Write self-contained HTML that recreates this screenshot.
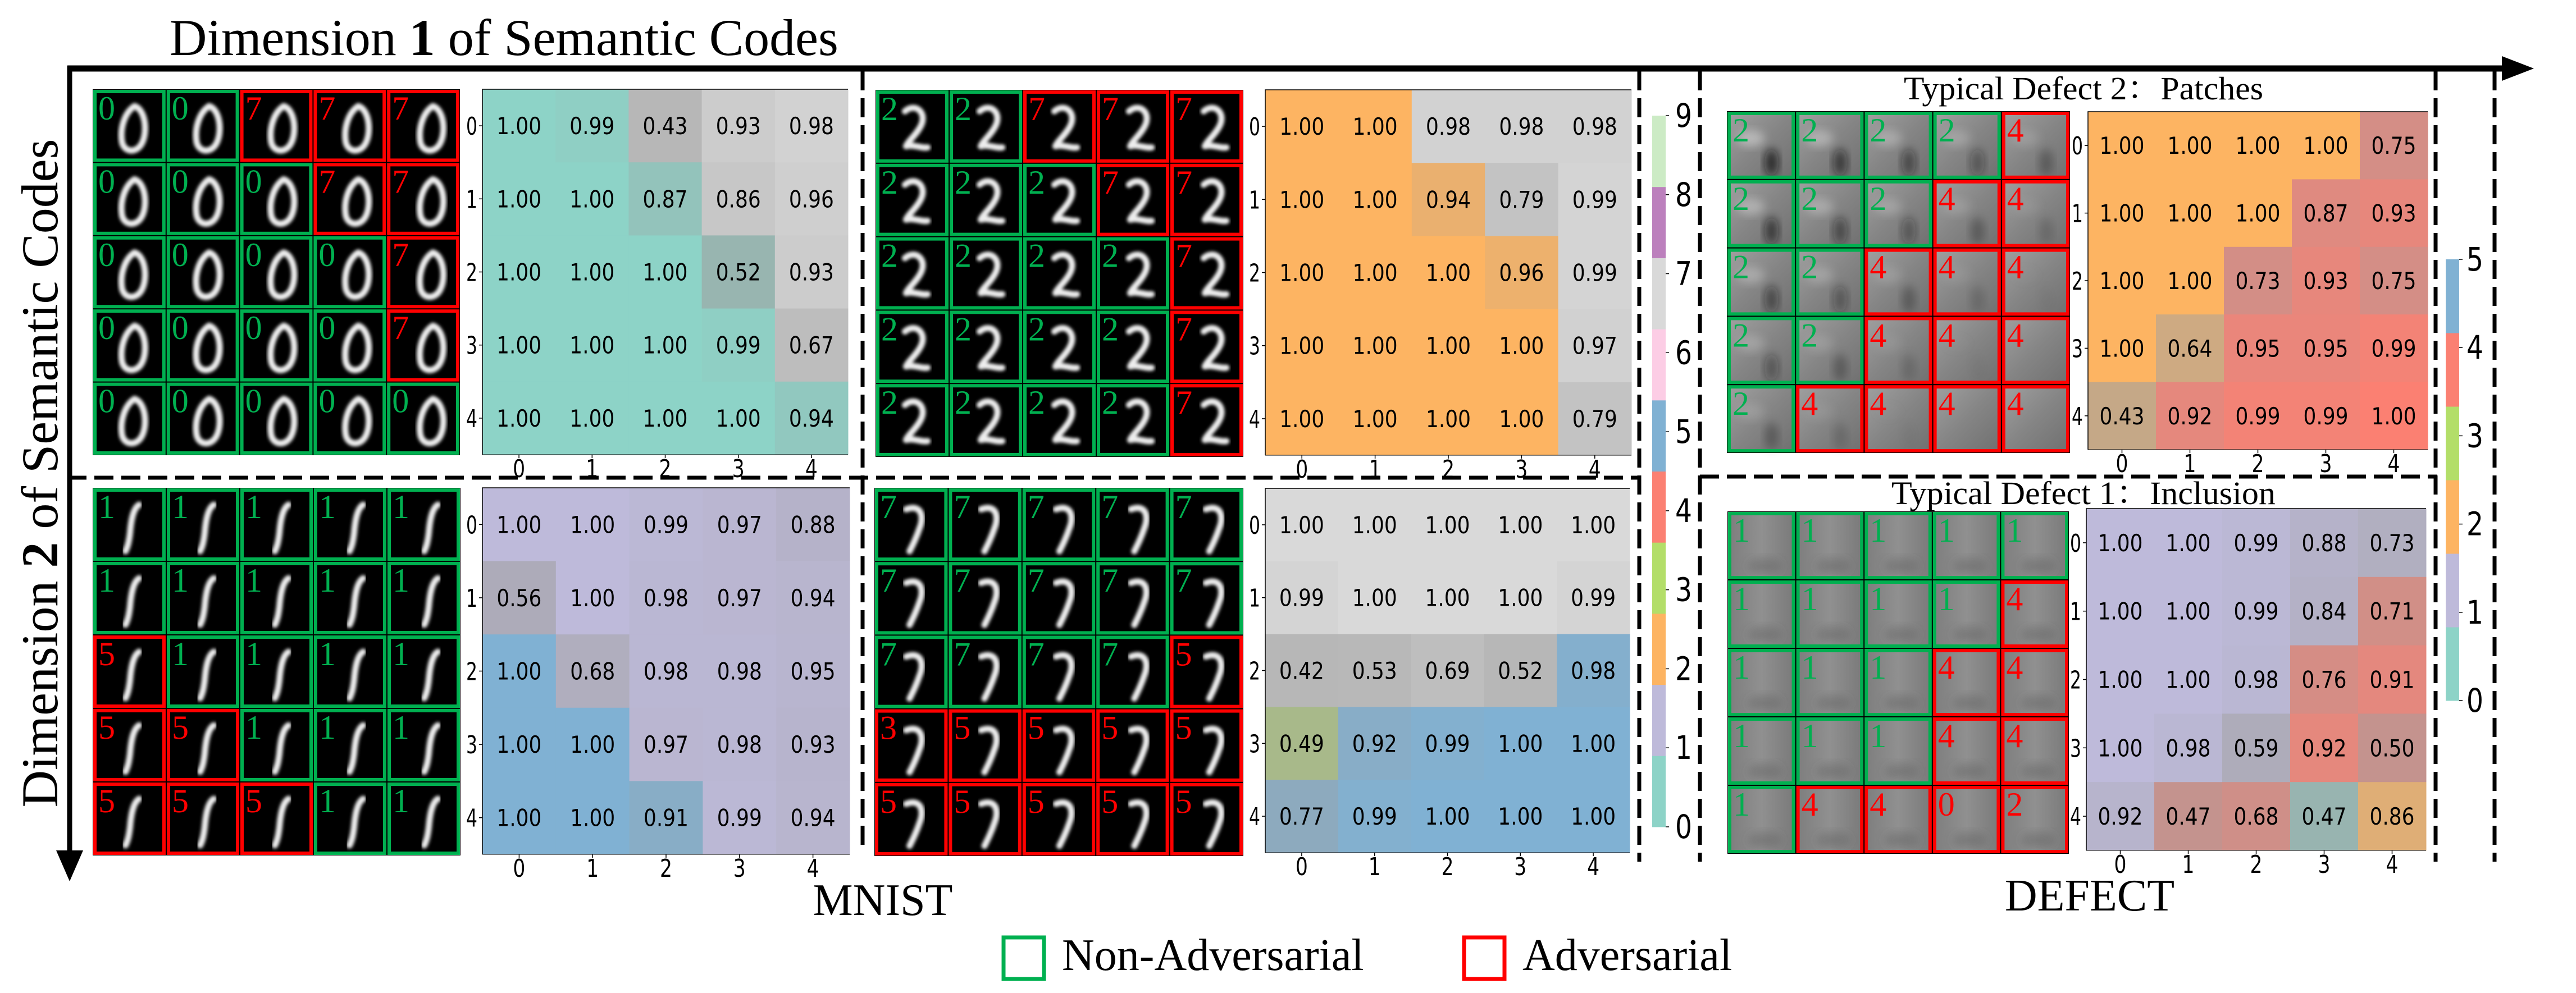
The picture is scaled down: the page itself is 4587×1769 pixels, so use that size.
<!DOCTYPE html>
<html><head><meta charset="utf-8">
<style>
html,body{margin:0;padding:0;background:#fff;}
svg{display:block;}
</style></head>
<body>
<svg id="fig" xmlns="http://www.w3.org/2000/svg" width="4587" height="1769" viewBox="0 0 4587 1769">
<defs>
<filter id="blur" x="-20%" y="-20%" width="140%" height="140%"><feGaussianBlur stdDeviation="3"/></filter>
<filter id="blur2" x="-30%" y="-30%" width="160%" height="160%"><feGaussianBlur stdDeviation="8"/></filter>
<linearGradient id="defA" x1="0" y1="0" x2="1" y2="1"><stop offset="0" stop-color="#a0a0a0"/><stop offset="0.5" stop-color="#858585"/><stop offset="1" stop-color="#707070"/></linearGradient>
<linearGradient id="defB" x1="0" y1="0" x2="1" y2="0"><stop offset="0" stop-color="#7e7e7e"/><stop offset="0.5" stop-color="#909090"/><stop offset="1" stop-color="#7a7a7a"/></linearGradient>
</defs>
<g id="frame"></g>
<g id="panels"></g>
<g id="texts">
<text x="302" y="98" font-family="Liberation Serif, serif" font-size="92">Dimension <tspan font-weight="bold">1</tspan> of Semantic Codes</text>
<text transform="translate(102,843) rotate(-90)" text-anchor="middle" font-family="Liberation Serif, serif" font-size="92">Dimension <tspan font-weight="bold">2</tspan> of Semantic Codes</text>
<text x="1572" y="1630" text-anchor="middle" font-family="Liberation Serif, serif" font-size="80">MNIST</text>
<text x="3721" y="1622" text-anchor="middle" font-family="Liberation Serif, serif" font-size="80">DEFECT</text>
<text x="3390" y="177" font-family="Liberation Serif, 'Noto Serif CJK SC', serif" font-size="58" textLength="640" lengthAdjust="spacingAndGlyphs">Typical Defect 2：Patches</text>
<text x="3368" y="898" font-family="Liberation Serif, 'Noto Serif CJK SC', serif" font-size="58" textLength="684" lengthAdjust="spacingAndGlyphs">Typical Defect 1：Inclusion</text>
<rect x="1787" y="1670" width="72" height="74" fill="none" stroke="#00b050" stroke-width="7"/>
<text x="1891" y="1728" font-family="Liberation Serif, serif" font-size="80">Non-Adversarial</text>
<rect x="2607" y="1670" width="72" height="74" fill="none" stroke="#ff0000" stroke-width="7"/>
<text x="2711" y="1728" font-family="Liberation Serif, serif" font-size="80">Adversarial</text>
</g>
<g id="cbars"></g>
</svg>
<script>
// ---- data ----
const classColors = ["#8dd3c7","#bebada","#fdb462","#b3de69","#fb8072","#80b1d3","#fccde5","#d9d9d9","#bc80bd","#ccebc5"];
const mnistClasses = [0,1,2,3,4,5,6,7,8,9];
const defectClasses = [0,1,2,3,4,5];
const tickLabels = ["0","1","2","3","4"];

const valsMnist0 = [[1.00,0.99,0.43,0.93,0.98],[1.00,1.00,0.87,0.86,0.96],[1.00,1.00,1.00,0.52,0.93],[1.00,1.00,1.00,0.99,0.67],[1.00,1.00,1.00,1.00,0.94]];
const labsMnist0 = [[0,0,7,7,7],[0,0,0,7,7],[0,0,0,0,7],[0,0,0,0,7],[0,0,0,0,0]];
const valsMnist2 = [[1.00,1.00,0.98,0.98,0.98],[1.00,1.00,0.94,0.79,0.99],[1.00,1.00,1.00,0.96,0.99],[1.00,1.00,1.00,1.00,0.97],[1.00,1.00,1.00,1.00,0.79]];
const labsMnist2 = [[2,2,7,7,7],[2,2,2,7,7],[2,2,2,2,7],[2,2,2,2,7],[2,2,2,2,7]];
const valsMnist1 = [[1.00,1.00,0.99,0.97,0.88],[0.56,1.00,0.98,0.97,0.94],[1.00,0.68,0.98,0.98,0.95],[1.00,1.00,0.97,0.98,0.93],[1.00,1.00,0.91,0.99,0.94]];
const labsMnist1 = [[1,1,1,1,1],[1,1,1,1,1],[5,1,1,1,1],[5,5,1,1,1],[5,5,5,1,1]];
const valsMnist7 = [[1.00,1.00,1.00,1.00,1.00],[0.99,1.00,1.00,1.00,0.99],[0.42,0.53,0.69,0.52,0.98],[0.49,0.92,0.99,1.00,1.00],[0.77,0.99,1.00,1.00,1.00]];
const labsMnist7 = [[7,7,7,7,7],[7,7,7,7,7],[7,7,7,7,5],[3,5,5,5,5],[5,5,5,5,5]];
const valsDefect2 = [[1.00,1.00,1.00,1.00,0.75],[1.00,1.00,1.00,0.87,0.93],[1.00,1.00,0.73,0.93,0.75],[1.00,0.64,0.95,0.95,0.99],[0.43,0.92,0.99,0.99,1.00]];
const labsDefect2 = [[2,2,2,2,4],[2,2,2,4,4],[2,2,4,4,4],[2,2,4,4,4],[2,4,4,4,4]];
const valsDefect1 = [[1.00,1.00,0.99,0.88,0.73],[1.00,1.00,0.99,0.84,0.71],[1.00,1.00,0.98,0.76,0.91],[1.00,0.98,0.59,0.92,0.50],[0.92,0.47,0.68,0.47,0.86]];
const labsDefect1 = [[1,1,1,1,1],[1,1,1,1,4],[1,1,1,4,4],[1,1,1,4,4],[1,4,4,0,2]];

// ---- layout ----
const NS = "http://www.w3.org/2000/svg";
function mk(tag, attrs, parent){const e=document.createElementNS(NS,tag);for(const k in attrs)e.setAttribute(k,attrs[k]);if(parent)parent.appendChild(e);return e;}
const frame = document.getElementById('frame');
const panelsG = document.getElementById('panels');
const cbarsG = document.getElementById('cbars');

let l = mk('line',{x1:120,y1:122,x2:4470,y2:122,stroke:'#000','stroke-width':11},frame);


let h = mk('polygon',{points:'4455,100 4512,122 4455,144',fill:'#000'},frame);


l = mk('line',{x1:124,y1:117,x2:124,y2:1525,stroke:'#000','stroke-width':9},frame);


h = mk('polygon',{points:'100,1515 124,1570 148,1515',fill:'#000'},frame);


const dashes = [[120,851,2919,851],[3027,849,4340,849],[1536,127,1536,1515],[2919,127,2919,1535],[3027,127,3027,1535],[4337,127,4337,1535],[4442,127,4442,1535]];
dashes.forEach(function(d){
  const e = mk('line',{x1:d[0],y1:d[1],x2:d[2],y2:d[3],stroke:'#000','stroke-width':7,'stroke-dasharray':'34 14'},frame);
  
  
});

function hexToRgb(hx){return [parseInt(hx.slice(1,3),16),parseInt(hx.slice(3,5),16),parseInt(hx.slice(5,7),16)];}
function cellColor(cls, conf){
  const b = hexToRgb(classColors[cls]);
  const t = Math.min(0.6, 0.6*Math.sqrt(Math.max(0,1-conf)/0.5));
  const g = 160;
  return 'rgb('+b.map(v=>Math.round(v+(g-v)*t)).join(',')+')';
}

const digitPaths = {
  0:'M74 30 C94 36 98 78 86 98 C76 114 56 112 52 94 C48 70 56 42 74 30 Z',
  2:'M52 38 C70 22 92 40 80 64 C72 80 58 90 54 100 C66 96 82 104 92 102',
  1:'M82 30 C72 36 68 56 66 80 C64 96 62 104 58 112',
  7:'M56 38 C82 28 88 50 80 70 C74 88 68 100 62 112'
};

function drawPanel(opt){
  const g = mk('g',{},panelsG);
  
  
  const gx=opt.grid[0], gy=opt.grid[1], gw=opt.grid[2], gh=opt.grid[3];
  const bg = mk('rect',{x:gx,y:gy,width:gw,height:gh,fill:'#000'},g);
  
  
  const cw=gw/5, ch=gh/5;
  for(let r=0;r<5;r++){for(let c=0;c<5;c++){
    const x=gx+c*cw, y=gy+r*ch;
    const lab = opt.labels[r][c];
    const adv = lab!==opt.trueClass;
    const col = adv?'#ff0000':'#00b050';
    const cell = mk('g',{},g);
    
    
    if(opt.kind==='mnist'){
      const sx = cw/130, sy = ch/130;
      mk('path',{d:digitPaths[opt.shape],transform:'translate('+(x+c*2)+','+y+') scale('+sx+','+sy+')',fill:'none',stroke:'#eeeeee','stroke-width':11,'stroke-linecap':'round','stroke-linejoin':'round',filter:'url(#blur)'},cell);
    } else {
      mk('rect',{x:x+3,y:y+3,width:cw-6,height:ch-6,fill:opt.kind==='defect2'?'url(#defA)':'url(#defB)'},cell);
      if(opt.kind==='defect2'){
        const dk = Math.max(0, 0.75 - (r+c)*0.12);
        mk('ellipse',{cx:x+cw*0.65,cy:y+ch*0.75,rx:cw*0.1,ry:ch*0.2,fill:'#111','fill-opacity':dk,filter:'url(#blur2)'},cell);
        mk('ellipse',{cx:x+cw*0.35,cy:y+ch*0.4,rx:cw*0.2,ry:ch*0.12,fill:'#ddd','fill-opacity':dk*0.7,filter:'url(#blur2)'},cell);
      } else {
        mk('ellipse',{cx:x+cw*0.55,cy:y+ch*0.8,rx:cw*0.25,ry:ch*0.12,fill:'#555','fill-opacity':0.35,filter:'url(#blur2)'},cell);
      }
    }
    mk('rect',{x:x+4,y:y+4,width:cw-8,height:ch-8,fill:'none',stroke:col,'stroke-width':6},cell);
    const t = mk('text',{x:x+10,y:y+54,fill:col,'font-family':'Liberation Serif, serif','font-size':60},cell);
    t.textContent = String(lab);
  }}
  const hx=opt.hm[0], hy=opt.hm[1], hw=opt.hm[2], hh=opt.hm[3];
  const hcw=hw/5, hch=hh/5;
  for(let r=0;r<5;r++){for(let c=0;c<5;c++){
    const v=opt.values[r][c];
    const rc = mk('rect',{x:hx+c*hcw,y:hy+r*hch,width:hcw+0.5,height:hch+0.5,fill:cellColor(opt.labels[r][c],v)},g);
    
    
    const tx = mk('text',{x:hx+(c+0.5)*hcw,y:hy+(r+0.5)*hch+15,'text-anchor':'middle','font-family':'DejaVu Sans, sans-serif','font-size':42,textLength:80,lengthAdjust:'spacingAndGlyphs',fill:'#000'},g);
    
    
    tx.textContent = v.toFixed(2);
  }}
  mk('path',{d:'M'+hx+' '+(hy+hh)+' V'+hy+' H'+(hx+hw),fill:'none',stroke:'#000','stroke-width':1.5},g);
  mk('line',{x1:hx,y1:hy+hh,x2:hx+hw,y2:hy+hh,stroke:'#000','stroke-width':1},g);
  for(let i=0;i<5;i++){
    const ty = mk('text',{x:hx-9,y:hy+(i+0.5)*hch+16,'text-anchor':'end','font-family':'DejaVu Sans, sans-serif','font-size':44,textLength:20,lengthAdjust:'spacingAndGlyphs'},g);
    
    
    ty.textContent = tickLabels[i];
    mk('line',{x1:hx-6,y1:hy+(i+0.5)*hch,x2:hx,y2:hy+(i+0.5)*hch,stroke:'#000','stroke-width':1.5},g);
    const tx2 = mk('text',{x:hx+(i+0.5)*hcw,y:hy+hh+40,'text-anchor':'middle','font-family':'DejaVu Sans, sans-serif','font-size':44,textLength:22,lengthAdjust:'spacingAndGlyphs'},g);
    
    
    tx2.textContent = tickLabels[i];
    mk('line',{x1:hx+(i+0.5)*hcw,y1:hy+hh,x2:hx+(i+0.5)*hcw,y2:hy+hh+6,stroke:'#000','stroke-width':1.5},g);
  }
}

drawPanel({name:'mnist-digit-0-panel',kind:'mnist',shape:0,trueClass:0,grid:[165,159,654,652],hm:[859,159,651,651],values:valsMnist0,labels:labsMnist0});
drawPanel({name:'mnist-digit-2-panel',kind:'mnist',shape:2,trueClass:2,grid:[1559,160,655,654],hm:[2253,160,652,651],values:valsMnist2,labels:labsMnist2});
drawPanel({name:'mnist-digit-1-panel',kind:'mnist',shape:1,trueClass:1,grid:[165,869,655,655],hm:[859,869,654,653],values:valsMnist1,labels:labsMnist1});
drawPanel({name:'mnist-digit-7-panel',kind:'mnist',shape:7,trueClass:7,grid:[1557,869,657,656],hm:[2253,870,649,649],values:valsMnist7,labels:labsMnist7});
drawPanel({name:'defect-patches-panel',kind:'defect2',trueClass:2,grid:[3075,198,611,609],hm:[3718,199,605,602],values:valsDefect2,labels:labsDefect2});
drawPanel({name:'defect-inclusion-panel',kind:'defect1',trueClass:1,grid:[3076,911,608,610],hm:[3715,906,605,609],values:valsDefect1,labels:labsDefect1});

function drawCbar(classes, x, top, bottom, labelX, name){
  const g = mk('g',{},cbarsG);
  
  
  const n = classes.length, seg=(bottom-top)/n;
  classes.forEach(function(cls,i){
    const r = mk('rect',{x:x,y:bottom-(i+1)*seg,width:24,height:seg+0.5,fill:classColors[cls]},g);
    
    
    const ly = bottom - i*(bottom-top)/(n-1);
    mk('line',{x1:x+24,y1:ly,x2:x+30,y2:ly,stroke:'#000','stroke-width':1.5},g);
    const t = mk('text',{x:labelX,y:ly+20,'text-anchor':'middle','font-family':'DejaVu Sans, sans-serif','font-size':58,textLength:30,lengthAdjust:'spacingAndGlyphs'},g);
    
    
    t.textContent = String(cls);
  });
}
drawCbar(mnistClasses, 2942, 206, 1473, 2998, 'mnist-colorbar');
drawCbar(defectClasses, 4355, 462, 1248, 4407, 'defect-colorbar');
</script>
</body></html>
